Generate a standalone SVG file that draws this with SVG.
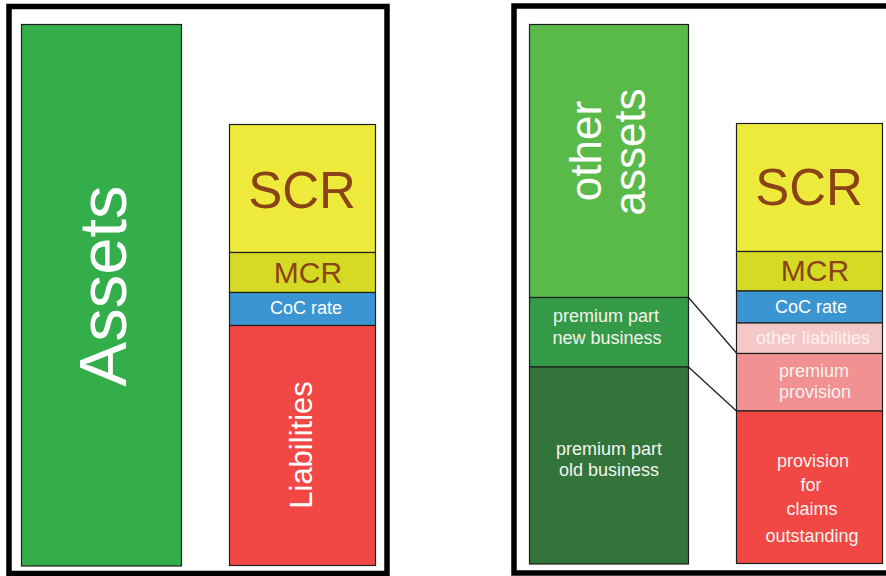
<svg xmlns="http://www.w3.org/2000/svg" width="886" height="576" viewBox="0 0 886 576">
<style>
  .frame { fill: none; stroke: #000; stroke-width: 5.5; }
  .box { stroke: #1e1e1e; stroke-width: 1.2; }
  text { font-family: "Liberation Sans", Arial, sans-serif; text-anchor: middle; }
  .w { fill: #ffffff; }
  .br { fill: #8a4317; }
  .lbl { font-size: 18px; fill: #f4f4f0; }
  .conn { stroke: #1a1a1a; stroke-width: 1.2; fill: none; }
</style>
<rect width="886" height="576" fill="#ffffff"/>
<g id="frame-left"><rect class="frame" x="9" y="6.5" width="378" height="567"/></g>
<g id="frame-right"><rect class="frame" x="514" y="6" width="400" height="567"/></g>

<g id="assets">
  <rect class="box" x="21.5" y="24.5" width="160" height="541.5" fill="#34ad4b"/>
  <text class="w" font-size="67" transform="translate(126,286) rotate(-90)">Assets</text>
</g>
<g id="scr-left">
  <rect class="box" x="229.5" y="124.5" width="146" height="128" fill="#eeea3c"/>
  <text class="br" font-size="51" x="302" y="208">SCR</text>
</g>
<g id="mcr-left">
  <rect class="box" x="229.5" y="252.5" width="146" height="40" fill="#d5da24"/>
  <text class="br" font-size="30" x="308" y="283">MCR</text>
</g>
<g id="coc-left">
  <rect class="box" x="229.5" y="292.5" width="146" height="33" fill="#3c95d3"/>
  <text class="w" font-size="18" x="306" y="314">CoC rate</text>
</g>
<g id="liabilities">
  <rect class="box" x="229.5" y="325.5" width="146" height="240" fill="#f14845"/>
  <text class="w" font-size="31" transform="translate(312,445) rotate(-90)">Liabilities</text>
</g>

<g id="other-assets">
  <rect class="box" x="529.5" y="24.5" width="159" height="273" fill="#59ba4a"/>
  <text class="w" font-size="44" transform="translate(601,151) rotate(-90)">other</text>
  <text class="w" font-size="44" transform="translate(645,152) rotate(-90)">assets</text>
</g>
<g id="premium-new">
  <rect class="box" x="529.5" y="297.5" width="159" height="69.5" fill="#359a47"/>
  <text class="lbl" x="606" y="322">premium part</text>
  <text class="lbl" x="607" y="344">new business</text>
</g>
<g id="premium-old">
  <rect class="box" x="529.5" y="367" width="159" height="197" fill="#32743a"/>
  <text class="lbl" x="609" y="455">premium part</text>
  <text class="lbl" x="609" y="476">old business</text>
</g>

<g id="scr-right">
  <rect class="box" x="736.5" y="123.5" width="146" height="128" fill="#eeea3c"/>
  <text class="br" font-size="51" x="809" y="205">SCR</text>
</g>
<g id="mcr-right">
  <rect class="box" x="736.5" y="251.5" width="146" height="39.5" fill="#d5da24"/>
  <text class="br" font-size="30" x="815" y="281">MCR</text>
</g>
<g id="coc-right">
  <rect class="box" x="736.5" y="291" width="146" height="32" fill="#3c95d3"/>
  <text class="w" font-size="18" x="811" y="313">CoC rate</text>
</g>
<g id="other-liabilities">
  <rect class="box" x="736.5" y="323" width="146" height="30.5" fill="#f5c8c8"/>
  <text font-size="18" fill="#fdf1f1" x="813" y="344">other liabilities</text>
</g>
<g id="premium-provision">
  <rect class="box" x="736.5" y="353.5" width="146" height="57.5" fill="#f29191"/>
  <text class="lbl" x="814" y="377">premium</text>
  <text class="lbl" x="815" y="398">provision</text>
</g>
<g id="claims-outstanding">
  <rect class="box" x="736.5" y="411" width="146" height="152.5" fill="#f14845"/>
  <text class="lbl" x="813" y="467">provision</text>
  <text class="lbl" x="811" y="491">for</text>
  <text class="lbl" x="812" y="515">claims</text>
  <text class="lbl" x="812" y="542">outstanding</text>
</g>

<g id="connectors">
  <line class="conn" x1="688.5" y1="297.5" x2="736.5" y2="353"/>
  <line class="conn" x1="688.5" y1="367" x2="736.5" y2="411"/>
</g>
</svg>
